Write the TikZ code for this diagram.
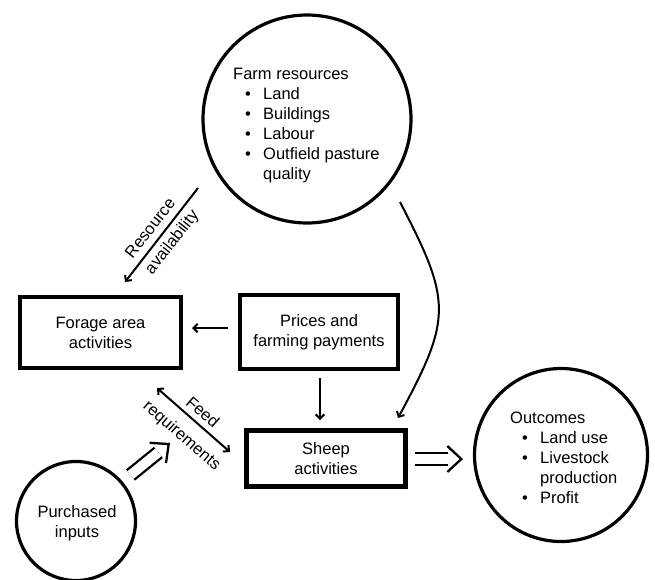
\documentclass[tikz,border=0pt]{standalone}
\usepackage{fontspec}
\setmainfont{Liberation Sans}
\usetikzlibrary{arrows.meta,calc}
\newcommand{\bitem}{\makebox[30pt][l]{\hspace{12pt}\textbullet}}
\begin{document}
\begin{tikzpicture}[x=1pt,y=-1pt,
  every node/.style={font=\fontsize{16.5}{20}\selectfont},
  ring/.style={circle, draw, line width=3.2pt, inner sep=0pt},
  box/.style={rectangle, draw, line width=4.5pt, inner sep=0pt, align=center},
  txt/.style={inner sep=0pt},
  arr/.style={line width=2pt, -{Straight Barb[angle=90:6pt]}},
  arrs/.style={line width=2pt, {Straight Barb[angle=90:6pt]}-{Straight Barb[angle=90:6pt]}},
  dblshaft/.style={line width=2.3pt, double, double distance=9.7pt, shorten >=15pt},
  dbltip/.style={line width=2.3pt, -{Straight Barb[length=14pt,width=26pt]}},
]
\useasboundingbox (0,0) rectangle (655,579);

% circles
\node[ring, minimum size=208pt] (farm) at (307,119) {};
\node[ring, minimum size=173pt] (outcomes) at (561,455) {};
\node[ring, minimum size=119pt] (purchased) at (76,521) {};

% boxes
\node[box, minimum width=161pt, minimum height=71pt] (forage) at (100.5,332.5) {Forage area\\activities};
\node[box, minimum width=158pt, minimum height=74pt] (prices) at (319,332) {Prices and\\farming payments};
\node[box, minimum width=159pt, minimum height=56pt] (sheep) at (326,458.5) {Sheep\\activities};

% circle texts
\node[txt, anchor=base west] (farmtxt) at (233,79) {\begin{tabular}[t]{@{}l@{}}Farm resources\\ \bitem Land\\ \bitem Buildings\\ \bitem Labour\\ \bitem Outfield pasture\\ \hspace{30pt}quality\end{tabular}};
\node[txt, anchor=base west] (outtxt) at (510,423) {\begin{tabular}[t]{@{}l@{}}Outcomes\\ \bitem Land use\\ \bitem Livestock\\ \hspace{30pt}production\\ \bitem Profit\end{tabular}};
\node[txt, anchor=base] (purtxt) at (77,517) {\begin{tabular}[t]{@{}c@{}}Purchased\\ inputs\end{tabular}};

% rotated labels
\node[txt, rotate=52] (ra) at (150,228) {Resource};
\node[txt, rotate=52] (av) at (172.5,242.5) {availability};
\node[txt, rotate=-41] (fd) at (203,412) {Feed};
\node[txt, rotate=-41] (rq) at (181.5,436) {requirements};

% arrow end points
\coordinate (ra1) at (198,188);
\coordinate (ra2) at (125,282);
\coordinate (fr1) at (157,388);
\coordinate (fr2) at (230,452);
\coordinate (pf1) at (228,328);
\coordinate (pf2) at (192,328);
\coordinate (ps1) at (320,378);
\coordinate (ps2) at (320,420);
\coordinate (cv1) at (400,202);
\coordinate (cv2) at (398,418);
\coordinate (o1) at (415,459);
\coordinate (o2) at (463,459);
\coordinate (p1) at (130.5,475);
\coordinate (p2) at (170,443);

\draw[arr] (ra1) -- (ra2);
\draw[arrs] (fr1) -- (fr2);
\draw[arr] (pf1) -- (pf2);
\draw[arr] (ps1) -- (ps2);
\draw[arr] (cv1) .. controls (452,302) and (452,318) .. (cv2);

\draw[dblshaft] (o1) -- (o2);
\draw[dbltip] ($(o2)!1pt!(o1)$) -- (o2);
\draw[dblshaft] (p1) -- (p2);
\draw[dbltip] ($(p2)!1pt!(p1)$) -- (p2);
\end{tikzpicture}
\end{document}
